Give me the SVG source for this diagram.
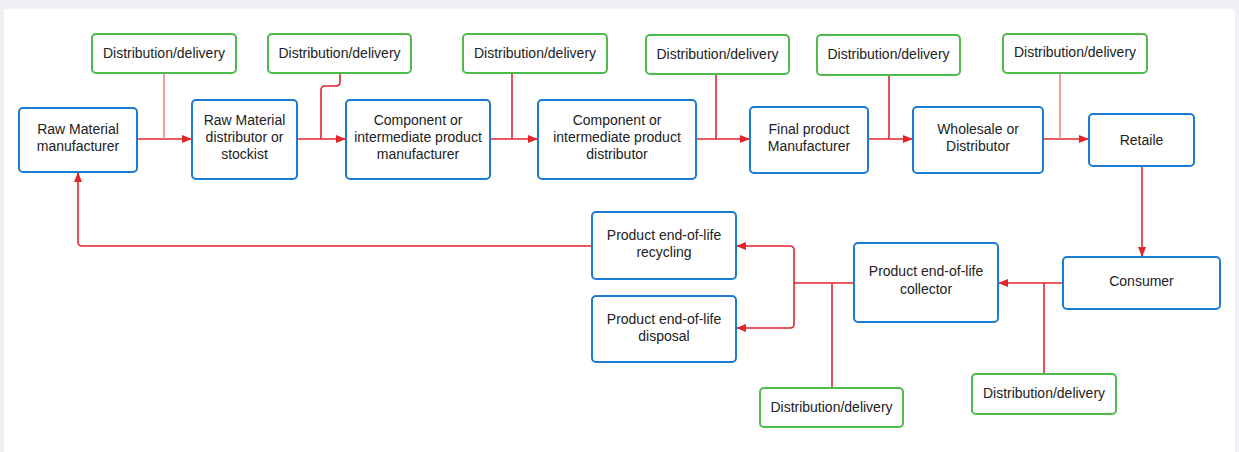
<svg xmlns="http://www.w3.org/2000/svg" width="1239" height="452" viewBox="0 0 1239 452">
<defs>
<style>
.n rect{fill:#fff;stroke:#1b7bd3;stroke-width:2}
.d rect{fill:#fff;stroke:#4dbb4a;stroke-width:2}
text{font-family:"Liberation Sans",Arial,sans-serif;font-size:14px;fill:#222;text-anchor:middle}
.c path{fill:none;stroke:#e0262c;stroke-width:1.6}
.c path.l{stroke:#ec8a80}
</style>
<marker id="a" viewBox="0 0 10 8" refX="10" refY="4" markerWidth="10" markerHeight="8" markerUnits="userSpaceOnUse" orient="auto">
<path d="M0,0 L10,4 L0,8 Z" fill="#e0262c"/>
</marker>
</defs>
<rect x="0" y="0" width="1239" height="452" fill="#eef0f3"/>
<rect x="4" y="9" width="1231" height="443" fill="#fff"/>

<g class="c" id="connectors">
<path d="M137,139 H192" marker-end="url(#a)"/>
<path class="l" d="M164,73 V139"/>
<path d="M297,139 H346" marker-end="url(#a)"/>
<path d="M340,73 V82 Q340,86 336,86 H325 Q321,86 321,90 V139"/>
<path d="M490,139 H538" marker-end="url(#a)"/>
<path d="M512,73 V139"/>
<path d="M696,139 H750" marker-end="url(#a)"/>
<path d="M716,74 V139"/>
<path d="M868,139 H913" marker-end="url(#a)"/>
<path d="M889,75 V139"/>
<path d="M1043,139 H1089" marker-end="url(#a)"/>
<path class="l" d="M1060,73 V139"/>
<path d="M1142,166 V257" marker-end="url(#a)"/>
<path d="M1063,283 H998" marker-end="url(#a)"/>
<path d="M1044,374 V283"/>
<path d="M855,283 H794"/>
<path d="M832,388 V283"/>
<path d="M794,283 V250 Q794,246 790,246 H736" marker-end="url(#a)"/>
<path d="M794,283 V324 Q794,328 790,328 H736" marker-end="url(#a)"/>
<path d="M592,246 H82 Q78,246 78,242 V172" marker-end="url(#a)"/>
</g>

<g class="n" id="raw-manufacturer"><rect x="19" y="108" width="118" height="64" rx="4"/><text x="78" y="134">Raw Material</text><text x="78" y="151">manufacturer</text></g>
<g class="n" id="raw-distributor"><rect x="192" y="100" width="105" height="79" rx="4"/><text x="244.5" y="125">Raw Material</text><text x="244.5" y="142">distributor or</text><text x="244.5" y="159">stockist</text></g>
<g class="n" id="component-manufacturer"><rect x="346" y="100" width="144" height="79" rx="4"/><text x="418" y="125">Component or</text><text x="418" y="142">intermediate product</text><text x="418" y="159">manufacturer</text></g>
<g class="n" id="component-distributor"><rect x="538" y="100" width="158" height="79" rx="4"/><text x="617" y="125">Component or</text><text x="617" y="142">intermediate product</text><text x="617" y="159">distributor</text></g>
<g class="n" id="final-manufacturer"><rect x="750" y="107" width="118" height="66" rx="4"/><text x="809" y="134">Final product</text><text x="809" y="151">Manufacturer</text></g>
<g class="n" id="wholesale"><rect x="913" y="107" width="130" height="66" rx="4"/><text x="978" y="134">Wholesale or</text><text x="978" y="151">Distributor</text></g>
<g class="n" id="retaile"><rect x="1089" y="114" width="105" height="52" rx="4"/><text x="1141.5" y="145">Retaile</text></g>
<g class="n" id="consumer"><rect x="1063" y="257" width="157" height="52" rx="4"/><text x="1141.5" y="286">Consumer</text></g>
<g class="n" id="collector"><rect x="854" y="243" width="144" height="79" rx="4"/><text x="926" y="276">Product end-of-life</text><text x="926" y="294">collector</text></g>
<g class="n" id="recycling"><rect x="592" y="212" width="144" height="67" rx="4"/><text x="664" y="240">Product end-of-life</text><text x="664" y="257">recycling</text></g>
<g class="n" id="disposal"><rect x="592" y="296" width="144" height="66" rx="4"/><text x="664" y="324">Product end-of-life</text><text x="664" y="341">disposal</text></g>

<g class="d" id="dist1"><rect x="92" y="34" width="144" height="39" rx="4"/><text x="164" y="58">Distribution/delivery</text></g>
<g class="d" id="dist2"><rect x="268" y="34" width="143" height="39" rx="4"/><text x="339.5" y="58">Distribution/delivery</text></g>
<g class="d" id="dist3"><rect x="463" y="34" width="144" height="39" rx="4"/><text x="535" y="58">Distribution/delivery</text></g>
<g class="d" id="dist4"><rect x="646" y="35" width="143" height="39" rx="4"/><text x="717.5" y="59">Distribution/delivery</text></g>
<g class="d" id="dist5"><rect x="817" y="35" width="143" height="40" rx="4"/><text x="888.5" y="59">Distribution/delivery</text></g>
<g class="d" id="dist6"><rect x="1003" y="34" width="144" height="39" rx="4"/><text x="1075" y="57">Distribution/delivery</text></g>
<g class="d" id="dist7"><rect x="760" y="388" width="143" height="39" rx="4"/><text x="831.5" y="412">Distribution/delivery</text></g>
<g class="d" id="dist8"><rect x="972" y="374" width="144" height="40" rx="4"/><text x="1044" y="398">Distribution/delivery</text></g>
</svg>
